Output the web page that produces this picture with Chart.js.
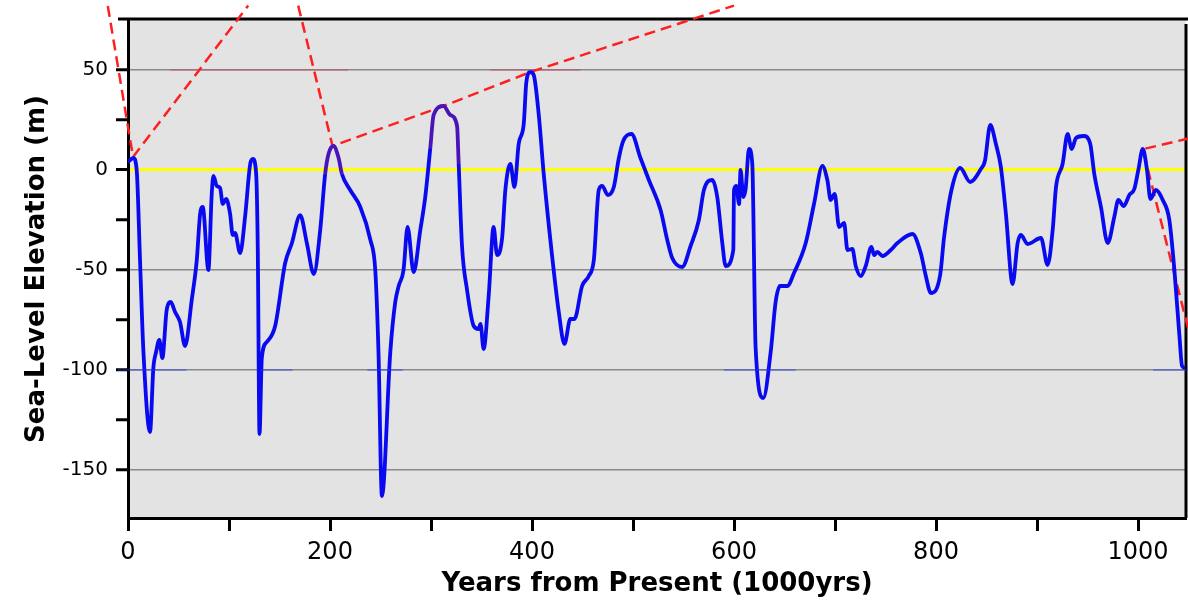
<!DOCTYPE html>
<html>
<head>
<meta charset="utf-8">
<script src="https://cdn.jsdelivr.net/npm/chart.js@4.4.1/dist/chart.umd.min.js"></script>
<style>
  html, body { margin: 0; padding: 0; background: #ffffff; }
  #wrap { width: 1188px; height: 603px; position: relative; }
</style>
</head>
<body>
<div id="wrap"><canvas id="c" width="1188" height="603"></canvas></div>
<script>
// ---- Data ----
// Years from present (thousands of years)
const years = [
  0, 5.3, 8.6, 11.9, 15.2, 21.8, 25.1, 27.8, 31, 34, 38.3, 42.3, 46.6, 51.5, 56.5,
  63.1, 68.1, 71.4, 74, 79.6, 82.9, 84.6, 87.9, 91.2, 93.8, 97.1, 101.1, 103.7, 106, 111,
  116, 121, 123.6, 126.9, 128.5, 130.2, 132.5, 137.4, 145.7, 155.6, 162.2, 170.5, 177.1, 184,
  190.3, 195.2, 198.5, 203.5, 208.5, 211.8, 220, 230, 240, 244.8, 248, 251.4, 259.7, 264.6,
  268, 272.8, 276.8, 282.8, 289.4, 294.3, 299.3, 302.6, 312.5, 319.1, 325.8, 327.4, 330.7,
  335.7, 342.3, 347.2, 349, 352.1, 357.1, 362, 365.4, 370.4, 373.6, 378.6, 382.6, 386.8,
  391.8, 394.4, 398.4, 401.7, 406.7, 411.6, 419.9, 426.5, 432.1, 438, 442, 449.6, 456.2,
  461.2, 466.1, 469.5, 475.1, 481, 486, 490.3, 498.5, 507.4, 515.7, 527.3, 533.9, 538.8,
  548.7, 557, 565.2, 570.2, 578.5, 583.4, 588.4, 591.7, 599.3, 600, 602.3, 605, 606.5, 609.2,
  611.5, 614.8, 618.1, 621.4, 629, 636.3, 641.2, 645.5, 652.8, 659.4, 671, 679.2, 687.5,
  692.4, 695.7, 699.7, 704, 709, 712.3, 717.2, 720.5, 725.5, 730.4, 736, 738.7, 742, 747,
  755.2, 761.8, 776.7, 784.9, 789.9, 794.9, 804.1, 808, 815.3, 823.9, 833.8, 844.4, 848.4,
  853.7, 859.3, 864.2, 869.2, 875.8, 880.8, 884, 890.7, 903.9, 910.5, 915.5, 918.8, 925.3,
  930.3, 934.3, 938.6, 946.2, 952.7, 956.7, 963.3, 970, 976.5, 980.5, 985.8, 991.4, 996.3,
  1000.3, 1004.7, 1008.9, 1012.2, 1017.8, 1024.5, 1031, 1036, 1041, 1043.6, 1046.6
];
// Sea-level elevation (m)
const seaLevel = [
  4, 6, 0, -45, -90, -131, -99, -91, -85, -94, -70, -66, -71, -76, -88,
  -65, -45, -22, -18.5, -50, -12, -3, -8, -9, -17, -14.5, -22, -32.5, -31.5, -41.5,
  -23, 3, 5.5, -2, -40, -132, -94, -86, -78, -46.5, -36.6, -22.6, -36.6, -52,
  -30, -2, 8, 12, 6, -2, -10, -18.5, -35, -50, -91, -163, -91, -66,
  -58, -50, -28.5, -51, -30, -13.5, 11, 27.5, 32, 27.5, 22, 3, -38,
  -60, -78, -79.5, -77, -89.5, -63, -28.5, -42.5, -34, -10, 3, -8.5, 13,
  23, 44, 49, 47.5, 27.5, -2, -43, -71, -87, -74.5, -74.5, -58, -53,
  -45, -10, -8, -12.5, -8.5, 6, 14.5, 18, 6, -5, -20, -35, -44,
  -48.5, -38, -25, -10, -5, -13.5, -36.5, -48, -40, -10, -8, -17, 0, -13.5,
  -9.5, 10.5, 3, -89, -114, -91, -66, -58, -58, -51.5, -36.5, -17, 2,
  -5, -15, -12, -28.5, -26.5, -40, -39.5, -48, -53, -48, -38.5, -42.5, -41, -43,
  -40, -36.5, -32, -41.5, -53, -61.5, -52.5, -33.5, -10, 1, -6, 0.5, 4.5,
  22.5, 13, 1.5, -22, -57, -36.5, -32.5, -37, -34, -47.5, -30, -8.5, 3,
  18, 10.5, 16, 17, 13, -2, -18.5, -36.5, -23.5, -15, -18, -12.5, -9.5,
  0, 10.5, 0, -14.5, -10, -15, -25, -50, -83, -98, -99
];
// Red dashed envelope lines (x = kyr, y = m), each a polyline
const envA_x = [-20, 5, 119];
const envA_y = [82, 6.5, 82.2];
const envB_x = [168.5, 202.5, 312.5, 398.5, 600];
const envB_y = [82.2, 12, 32, 49, 82.2];
const envC_x = [1050.5, 1004.7, 1050.5];
const envC_y = [15.8, 10.4, -81];

// Faint reference segments seen at -100 m (null = break)
const ref100_x = [-10, 58, 58, 131, 163, 163, 237, 272, 272, 590, 661, 661, 1015, 1050];
const ref100_y = [-100, -100, null, -100, -100, null, -100, -100, null, -100, -100, null, -100, -100];
// Faint reference segments seen at +50 m
const ref50_x = [42, 218, 218, 359, 448];
const ref50_y = [50, 50, null, 50, 50];

// Axis ticks
const yTickValues = [-150, -125, -100, -75, -50, -25, 0, 25, 50];
const yLabelValues = [-150, -100, -50, 0, 50];
const xTickValues = [0, 100, 200, 300, 400, 500, 600, 700, 800, 900, 1000];
const xLabelValues = [0, 200, 400, 600, 800, 1000];

// ---- Build chart ----
const pts = (xs, ys) => xs.map((x, i) => ({ x: x, y: ys[i] }));
const purpleRanges = [[195, 213], [297, 330]];
const inPurple = (x) => purpleRanges.some(r => x >= r[0] && x <= r[1]);

const bgPlugin = {
  id: 'bgFrame',
  beforeDraw(chart) {
    const { ctx, chartArea: a } = chart;
    ctx.save();
    ctx.fillStyle = '#e3e3e3';
    ctx.fillRect(a.left, a.top, a.right - a.left, a.bottom - a.top);
    ctx.restore();
  },
  beforeDatasetsDraw(chart) {
    const { ctx, chartArea: a } = chart;
    ctx.save();
    ctx.strokeStyle = '#000';
    ctx.lineWidth = 3;
    ctx.beginPath();
    ctx.moveTo(a.left - 10, a.top - 1);
    ctx.lineTo(chart.width, a.top - 1);
    ctx.moveTo(a.right, a.top + 4);
    ctx.lineTo(a.right, a.bottom);
    ctx.stroke();
    ctx.restore();
  }
};

const dashStyle = {
  type: 'line', showLine: true, pointRadius: 0, borderColor: '#ff1f1f',
  borderWidth: 2.5, borderDash: [11, 6], tension: 0, clip: false, fill: false
};

new Chart(document.getElementById('c'), {
  type: 'scatter',
  data: {
    datasets: [
      {
        type: 'line', label: 'ref -100', data: pts(ref100_x, ref100_y),
        borderColor: 'rgba(40,60,230,0.75)', borderWidth: 1.2, pointRadius: 0,
        spanGaps: false, fill: false, showLine: true, tension: 0, clip: false
      },
      {
        type: 'line', label: 'ref 50', data: pts(ref50_x, ref50_y),
        borderColor: 'rgba(200,60,80,0.45)', borderWidth: 1.5, pointRadius: 0,
        spanGaps: false, fill: false, showLine: true, tension: 0
      },
      {
        type: 'line', label: 'Sea level', data: pts(years, seaLevel),
        borderColor: '#0a0af0', borderWidth: 3.8, pointRadius: 0,
        cubicInterpolationMode: 'monotone', fill: false, showLine: true,
        segment: { borderColor: c => inPurple(c.p0.parsed.x) && inPurple(c.p1.parsed.x) ? '#4a14b8' : undefined }
      },
      Object.assign({ label: 'A', data: pts(envA_x, envA_y) }, dashStyle),
      Object.assign({ label: 'B', data: pts(envB_x, envB_y) }, dashStyle),
      Object.assign({ label: 'C', data: pts(envC_x, envC_y) }, dashStyle)
    ]
  },
  options: {
    responsive: false,
    animation: false,
    layout: { padding: { top: 15, right: 2, left: 0, bottom: 0 } },
    plugins: { legend: { display: false }, tooltip: { enabled: false } },
    scales: {
      x: {
        type: 'linear', min: 0, max: 1047.5,
        afterFit: s => { s.height = 85; },
        afterBuildTicks: s => { s.ticks = xTickValues.map(v => ({ value: v })); },
        border: { display: true, color: '#000', width: 3 },
        grid: { drawOnChartArea: false, drawTicks: true, tickLength: 13, tickColor: '#000', tickWidth: 3 },
        ticks: {
          autoSkip: false, maxRotation: 0, padding: 7, color: '#000',
          font: { family: 'DejaVu Sans', size: 24 },
          callback: v => xLabelValues.includes(v) ? String(v) : ''
        },
        title: {
          display: true, text: 'Years from Present (1000yrs)', color: '#000',
          font: { family: 'DejaVu Sans', size: 26, weight: 'bold' },
          padding: { top: 0, bottom: 3 }
        }
      },
      y: {
        type: 'linear', min: -174, max: 75,
        afterFit: s => { s.width = 128; },
        afterBuildTicks: s => { s.ticks = yTickValues.map(v => ({ value: v })); },
        border: { display: true, color: '#000', width: 3 },
        grid: {
          drawTicks: true, tickLength: 12, tickColor: '#000', tickWidth: 3,
          color: c => c.tick && c.tick.value === 0 ? '#ffff00' : (c.tick && yLabelValues.includes(c.tick.value) ? '#8a8a8a' : 'rgba(0,0,0,0)'),
          lineWidth: c => c.tick && c.tick.value === 0 ? 3 : 1.5
        },
        ticks: {
          autoSkip: false, padding: 8, color: '#000',
          font: { family: 'DejaVu Sans', size: 20 },
          callback: v => yLabelValues.includes(v) ? String(v) : ''
        },
        title: {
          display: true, text: 'Sea-Level Elevation (m)', color: '#000',
          font: { family: 'DejaVu Sans', size: 26, weight: 'bold' },
          padding: { top: 22, bottom: 0 }
        }
      }
    }
  },
  plugins: [bgPlugin]
});
</script>
</body>
</html>
